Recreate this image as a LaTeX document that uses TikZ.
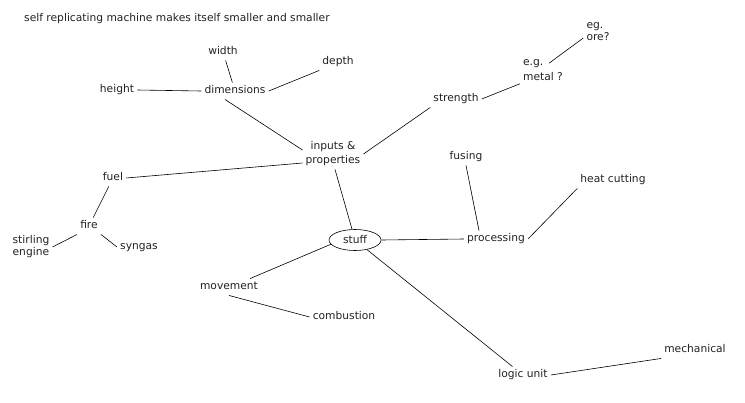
\documentclass[tikz,border=0pt]{standalone}
\usepackage{fontspec}
\setmainfont{DejaVu Sans}
\usetikzlibrary{shapes.geometric}
\definecolor{txt}{RGB}{34,34,34}
\begin{document}
\begin{tikzpicture}[x=1pt,y=-1pt,
  every node/.style={font=\fontsize{10.7}{12.5}\selectfont, text=txt, inner sep=3pt},
  lbl/.style={text height=8pt, text depth=2.5pt, yshift=-2pt},
  multi/.style={align=left, yshift=-2pt},
  link/.style={draw=black, line width=0.6pt}]
\useasboundingbox (0,0) rectangle (745,402);
\node[anchor=base west, inner sep=0] (title) at (24,21) {self replicating machine makes itself smaller and smaller};
\node[lbl] (width) at (223,50) {width};
\node[lbl] (depth) at (338,60) {depth};
\node[lbl] (height) at (117,88) {height};
\node[lbl] (dims) at (235,89) {dimensions};
\node[align=center, yshift=-2pt] (inp) at (333,152) {inputs \&\\[1.5pt]properties};
\node[lbl] (strength) at (456,97) {strength};
\node[multi] (metal) at (543,68) {e.g.\\[2.5pt]metal ?};
\node[multi, font=\fontsize{10.7}{12}\selectfont] (ore) at (598,30) {eg.\\ore?};
\node[lbl] (fusing) at (466,155) {fusing};
\node[lbl] (heat) at (613,178) {heat cutting};
\node[lbl] (proc) at (496,237) {processing};
\node[ellipse, draw=black, line width=0.6pt, minimum width=52pt, minimum height=21pt, inner sep=0] (stuff) at (355,240) {stuff};
\node[lbl] (fuel) at (113,176) {fuel};
\node[lbl] (fire) at (89,224) {fire};
\node[multi, font=\fontsize{10.7}{12}\selectfont] (stir) at (31,245) {stirling\\engine};
\node[lbl] (syngas) at (139,245) {syngas};
\node[lbl] (move) at (229,285) {movement};
\node[lbl] (comb) at (344,315) {combustion};
\node[lbl] (logic) at (523,373) {logic unit};
\node[lbl] (mech) at (695,348) {mechanical};

\draw[link] (width) -- (dims);
\draw[link] (dims.east) -- (depth.south west);
\draw[link] (height.east) -- (dims.west);
\draw[link] ([xshift=-10pt]dims.south) -- ([yshift=4pt]inp.west);
\draw[link] ([yshift=-9pt]inp.west) -- (fuel.east);
\draw[link] ([xshift=2pt]inp.south) -- ([xshift=-3pt]stuff.north);
\draw[link] (inp.east) -- (strength.south west);
\draw[link] (strength.east) -- (metal.south west);
\draw[link] ([xshift=6pt,yshift=-7pt]metal.north) -- ([yshift=-6pt]ore.west);
\draw[link] (fuel) -- (fire);
\draw[link] (fire.south west) -- (stir.east);
\draw[link] (fire.south east) -- (syngas.west);
\draw[link] (stuff.east) -- (proc.west);
\draw[link] (fusing.south) -- ([xshift=-17pt]proc.north);
\draw[link] (proc.east) -- (heat.south west);
\draw[link] (stuff.190) -- ([xshift=-11pt]move.north east);
\draw[link] (move.south) -- (comb.west);
\draw[link] (stuff) -- (logic);
\draw[link] (logic.east) -- (mech.south west);
\end{tikzpicture}
\end{document}
